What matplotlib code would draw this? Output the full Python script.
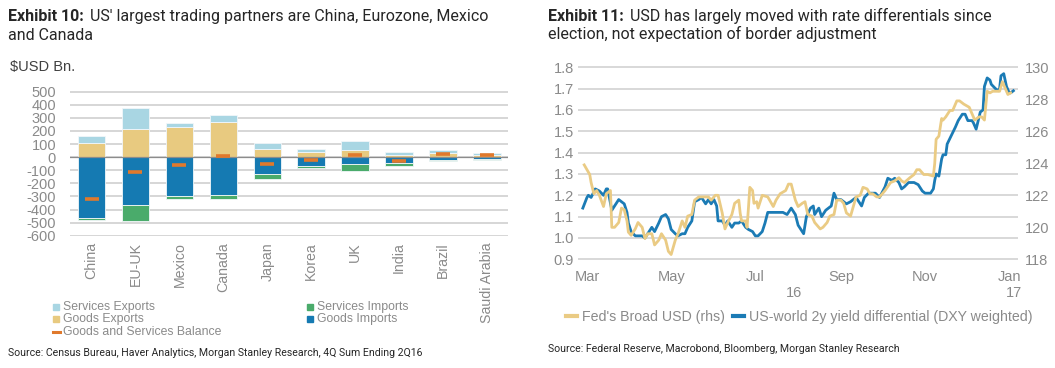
import matplotlib
matplotlib.use('Agg')
import matplotlib.pyplot as plt
import matplotlib.dates as mdates
import matplotlib.transforms as mtransforms
from matplotlib.lines import Line2D
from matplotlib.patches import Rectangle
from matplotlib import font_manager as fm
import numpy as np
import pandas as pd

plt.rcParams['axes.unicode_minus'] = False

# ---------------- Exhibit 10 data ($USD Bn, 4Q sum ending 2Q16) ----------------
categories = ['China', 'EU-UK', 'Mexico', 'Canada', 'Japan', 'Korea', 'UK',
              'India', 'Brazil', 'Saudi Arabia']
goods_exports = [109, 214, 229, 272, 61, 41, 56, 18, 31, 18]
services_exports = [54, 163, 33, 51, 46, 20, 66, 23, 22, 10]
goods_imports = [-463, -366, -300, -290, -130, -69, -53, -46, -20, -13]
services_imports = [-18, -123, -23, -26, -33, -15, -54, -23, -13, -5]
balance = [-318, -112, -61, 10, -56, -23, 15, -31, 23, 13]
left_yticks = [500, 400, 300, 200, 100, 0, -100, -200, -300, -400, -500, -600]

# ---------------- Exhibit 11 data ----------------
diff_dates = ['2016-02-27', '2016-03-01', '2016-03-02', '2016-03-04', '2016-03-07', '2016-03-10',
              '2016-03-13', '2016-03-15', '2016-03-16', '2016-03-19', '2016-03-21', '2016-03-24',
              '2016-03-26', '2016-03-28', '2016-03-30', '2016-03-31', '2016-04-02', '2016-04-05',
              '2016-04-10', '2016-04-12', '2016-04-14', '2016-04-17', '2016-04-19', '2016-04-22',
              '2016-04-24', '2016-04-27', '2016-04-29', '2016-05-01', '2016-05-04', '2016-05-06',
              '2016-05-09', '2016-05-11', '2016-05-13', '2016-05-16', '2016-05-18', '2016-05-21',
              '2016-05-23', '2016-05-26', '2016-05-28', '2016-05-30', '2016-06-01', '2016-06-03',
              '2016-06-04', '2016-06-07', '2016-06-09', '2016-06-11', '2016-06-14', '2016-06-16',
              '2016-06-19', '2016-06-21', '2016-06-24', '2016-06-26', '2016-06-29', '2016-07-01',
              '2016-07-03', '2016-07-06', '2016-07-08', '2016-07-10', '2016-07-13', '2016-07-18',
              '2016-07-21', '2016-07-24', '2016-07-27', '2016-07-30', '2016-08-01', '2016-08-04',
              '2016-08-05', '2016-08-07', '2016-08-10', '2016-08-12', '2016-08-13', '2016-08-16',
              '2016-08-18', '2016-08-21', '2016-08-23', '2016-08-25', '2016-08-27', '2016-08-29',
              '2016-09-01', '2016-09-03', '2016-09-05', '2016-09-08', '2016-09-10', '2016-09-12',
              '2016-09-16', '2016-09-18', '2016-09-21', '2016-09-23', '2016-09-26', '2016-09-29',
              '2016-10-03', '2016-10-05', '2016-10-08', '2016-10-10', '2016-10-13', '2016-10-15',
              '2016-10-17', '2016-10-20', '2016-10-22', '2016-10-24', '2016-10-27', '2016-10-30',
              '2016-11-01', '2016-11-05', '2016-11-07', '2016-11-08', '2016-11-09', '2016-11-11',
              '2016-11-13', '2016-11-14', '2016-11-16', '2016-11-17', '2016-11-20', '2016-11-23',
              '2016-11-25', '2016-11-28', '2016-11-30', '2016-12-02', '2016-12-05', '2016-12-06',
              '2016-12-08', '2016-12-11', '2016-12-13', '2016-12-14', '2016-12-16', '2016-12-18',
              '2016-12-19', '2016-12-22', '2016-12-24', '2016-12-25', '2016-12-26', '2016-12-28',
              '2016-12-30', '2017-01-01', '2017-01-02', '2017-01-04']
diff_values = [1.14, 1.19, 1.20, 1.19, 1.23, 1.22,
               1.20, 1.23, 1.23, 1.13, 1.15, 1.18,
               1.17, 1.16, 1.12, 1.07, 1.03, 1.01,
               1.01, 1.00, 1.02, 1.05, 1.03, 1.07,
               1.10, 1.11, 1.09, 1.04, 1.02, 1.01,
               1.02, 1.02, 1.05, 1.08, 1.17, 1.18,
               1.19, 1.16, 1.18, 1.16, 1.18, 1.15,
               1.08, 1.08, 1.06, 1.08, 1.05, 1.07,
               1.07, 1.08, 1.05, 1.04, 1.03, 1.01,
               1.01, 1.03, 1.07, 1.12, 1.12, 1.12,
               1.12, 1.11, 1.14, 1.11, 1.06, 1.03,
               1.02, 1.10, 1.14, 1.15, 1.11, 1.14,
               1.10, 1.13, 1.14, 1.15, 1.21, 1.18,
               1.18, 1.17, 1.16, 1.17, 1.18, 1.19,
               1.15, 1.19, 1.21, 1.21, 1.21, 1.19,
               1.24, 1.28, 1.27, 1.28, 1.26, 1.23,
               1.24, 1.26, 1.26, 1.26, 1.25, 1.22,
               1.21, 1.21, 1.23, 1.27, 1.30, 1.29,
               1.37, 1.39, 1.39, 1.44, 1.48, 1.52,
               1.55, 1.58, 1.58, 1.55, 1.55, 1.54,
               1.51, 1.59, 1.60, 1.71, 1.75, 1.74,
               1.72, 1.70, 1.69, 1.70, 1.76, 1.77,
               1.71, 1.68, 1.68, 1.69]

usd_dates = ['2016-02-28', '2016-03-03', '2016-03-04', '2016-03-06', '2016-03-08', '2016-03-10',
             '2016-03-13', '2016-03-15', '2016-03-18', '2016-03-19', '2016-03-21', '2016-03-24',
             '2016-03-26', '2016-03-28', '2016-03-30', '2016-03-31', '2016-04-02', '2016-04-05',
             '2016-04-07', '2016-04-10', '2016-04-12', '2016-04-14', '2016-04-17', '2016-04-19',
             '2016-04-22', '2016-04-24', '2016-04-27', '2016-04-29', '2016-05-01', '2016-05-04',
             '2016-05-06', '2016-05-09', '2016-05-11', '2016-05-13', '2016-05-16', '2016-05-18',
             '2016-05-21', '2016-05-26', '2016-05-28', '2016-05-30', '2016-06-02', '2016-06-04',
             '2016-06-07', '2016-06-09', '2016-06-11', '2016-06-14', '2016-06-16', '2016-06-19',
             '2016-06-20', '2016-06-21', '2016-06-24', '2016-06-25', '2016-06-26', '2016-06-27',
             '2016-06-29', '2016-06-30', '2016-07-02', '2016-07-03', '2016-07-06', '2016-07-10',
             '2016-07-14', '2016-07-16', '2016-07-19', '2016-07-23', '2016-07-25', '2016-07-27',
             '2016-07-30', '2016-08-01', '2016-08-04', '2016-08-06', '2016-08-08', '2016-08-11',
             '2016-08-13', '2016-08-16', '2016-08-17', '2016-08-19', '2016-08-22', '2016-08-24',
             '2016-08-27', '2016-08-29', '2016-09-01', '2016-09-03', '2016-09-05', '2016-09-08',
             '2016-09-10', '2016-09-12', '2016-09-15', '2016-09-17', '2016-09-20', '2016-09-22',
             '2016-09-24', '2016-09-27', '2016-09-29', '2016-10-03', '2016-10-07', '2016-10-10',
             '2016-10-13', '2016-10-15', '2016-10-17', '2016-10-21', '2016-10-24', '2016-10-26',
             '2016-10-28', '2016-10-31', '2016-11-03', '2016-11-07', '2016-11-08', '2016-11-09',
             '2016-11-11', '2016-11-13', '2016-11-14', '2016-11-16', '2016-11-19', '2016-11-21',
             '2016-11-24', '2016-11-26', '2016-11-29', '2016-12-01', '2016-12-03', '2016-12-06',
             '2016-12-07', '2016-12-10', '2016-12-12', '2016-12-14', '2016-12-16', '2016-12-18',
             '2016-12-20', '2016-12-23', '2016-12-25', '2016-12-27', '2016-12-29', '2016-12-31',
             '2017-01-02']
usd_values = [123.9, 123.3, 122.8, 122.1, 122.3, 122.0,
              121.3, 122.1, 122.3, 120.0, 120.0, 120.3,
              121.2, 121.1, 120.4, 119.7, 119.5, 119.9,
              120.3, 120.0, 119.3, 119.6, 119.6, 118.9,
              119.2, 119.6, 119.2, 118.5, 118.3, 119.2,
              119.6, 120.4, 120.0, 120.7, 120.8, 121.7,
              121.9, 121.9, 121.9, 121.7, 122.0, 122.0,
              120.9, 119.9, 120.3, 120.8, 121.5, 121.7,
              120.9, 120.4, 120.4, 120.0, 121.2, 122.5,
              122.3, 121.5, 121.6, 121.2, 122.0, 121.9,
              121.3, 121.7, 122.1, 122.3, 122.7, 122.7,
              121.7, 121.3, 121.5, 121.6, 120.8, 120.7,
              120.3, 120.0, 119.9, 120.0, 120.3, 120.7,
              120.8, 121.7, 121.7, 121.5, 120.9, 120.7,
              121.3, 121.9, 122.0, 122.5, 122.4, 122.1,
              122.1, 121.9, 121.9, 122.3, 122.8, 122.9,
              123.1, 122.9, 122.8, 123.1, 123.3, 123.6,
              123.6, 123.3, 123.3, 123.2, 124.0, 125.5,
              125.7, 126.8, 126.7, 126.9, 127.3, 127.3,
              127.9, 127.9, 127.7, 127.6, 127.5, 126.9,
              126.7, 126.9, 126.9, 126.7, 128.5, 128.4,
              128.5, 128.5, 128.5, 129.1, 128.7, 128.3,
              128.4]
left2_ticks = [0.9, 1.0, 1.1, 1.2, 1.3, 1.4, 1.5, 1.6, 1.7, 1.8]
right2_ticks = [118, 120, 122, 124, 126, 128, 130]

# ---------------- styling ----------------
W, H = 1055, 368
C_SE = '#a9d6e3'
C_GE = '#e8ca80'
C_GI = '#157ab2'
C_SI = '#4aab6b'
C_BAL = '#e0792c'
C_BLUE = '#1b7bb5'
C_YEL = '#eacb84'
GRAY = '#8a8a8a'
DARK = '#262626'
GRID = '#d6d6d6'

avail = {f.name for f in fm.fontManager.ttflist}
BODY = ['Liberation Sans', 'DejaVu Sans']
TITLE = ['Roboto', 'Liberation Sans', 'DejaVu Sans']
SRC = (['Liberation Sans Narrow'] if 'Liberation Sans Narrow' in avail else ['Roboto']) + ['DejaVu Sans']
plt.rcParams['font.family'] = BODY

fig = plt.figure(figsize=(W / 100, H / 100), dpi=100)


def fx(px):
    return px / W


def fy(py):
    return 1 - py / H


def add_axes_px(x0, y0, x1, y1):
    return fig.add_axes([fx(x0), fy(y1), (x1 - x0) / W, (y1 - y0) / H])


# ======================= Exhibit 10 =======================
ax1 = add_axes_px(70, 91.0, 508, 236.4)
x = np.arange(len(categories))
bw = 0.625
ek = dict(edgecolor='#f2f7fa', linewidth=0.6, zorder=2)
ax1.bar(x, goods_exports, bw, color=C_GE, **ek)
ax1.bar(x, services_exports, bw, bottom=goods_exports, color=C_SE, **ek)
ax1.bar(x, goods_imports, bw, color=C_GI, **ek)
ax1.bar(x, services_imports, bw, bottom=goods_imports, color=C_SI, **ek)
ax1.plot(x, balance, ls='none', marker='_', ms=10, mew=2.6, color=C_BAL, zorder=4)
ax1.axhline(0, color='#8c8c8c', lw=0.9, zorder=3)
ax1.set_xlim(-0.49, 9.48)
ax1.set_ylim(-605, 505)
ax1.set_yticks(left_yticks)
ax1.set_yticklabels([str(v) for v in left_yticks])
ax1.set_xticks(x)
ax1.set_xticklabels(categories, rotation=90)
ax1.tick_params(axis='y', length=0, pad=10, labelsize=10.5, labelcolor=GRAY)
ax1.tick_params(axis='x', length=0, pad=4, labelsize=10.2, labelcolor=GRAY)
ax1.grid(axis='y', color=GRID, lw=1.4, zorder=0)
ax1.set_axisbelow(True)
for s in ax1.spines.values():
    s.set_visible(False)

fig.text(fx(10), fy(67), '$USD Bn.', fontsize=10.5, color='#404040', va='center', ha='left')

# manual legend (Exhibit 10)
leg_items = [
    (53, 306.7, 'sq', C_SE, 'Services Exports'),
    (53, 319.2, 'sq', C_GE, 'Goods Exports'),
    (53, 331.7, 'ln', C_BAL, 'Goods and Services Balance'),
    (307, 306.7, 'sq', C_SI, 'Services Imports'),
    (307, 319.2, 'sq', C_GI, 'Goods Imports'),
]
for hx, hy, kind, col, lab in leg_items:
    if kind == 'sq':
        fig.patches.append(Rectangle((fx(hx), fy(hy + 3)), 6 / W, 6 / H,
                                     transform=fig.transFigure, color=col))
    else:
        fig.lines.append(Line2D([fx(hx), fx(hx + 7)], [fy(hy), fy(hy)],
                                transform=fig.transFigure, color=col, lw=2.2))
    fig.text(fx(hx + 10), fy(hy), lab, fontsize=8.8, color=GRAY, va='center', ha='left')

fig.text(fx(8), fy(353), 'Source: Census Bureau, Haver Analytics, Morgan Stanley Research, 4Q Sum Ending 2Q16',
         fontsize=7.6, color=DARK, va='center', ha='left', family=SRC)

# ======================= Exhibit 11 =======================
ax2 = add_axes_px(578, 66.2, 1018, 260.4)
ax3 = ax2.twinx()
dd = pd.to_datetime(diff_dates)
ud = pd.to_datetime(usd_dates)
ax2.plot(dd, diff_values, color=C_BLUE, lw=2.0, solid_joinstyle='round', zorder=3)
ax3.plot(ud, usd_values, color=C_YEL, lw=2.0, solid_joinstyle='round')
lo, hi = 0.895, 1.805
ax2.set_ylim(lo, hi)
ax3.set_ylim(118 + (lo - 0.9) / 0.075, 118 + (hi - 0.9) / 0.075)
ax2.set_yticks(left2_ticks)
ax2.set_yticklabels([f'{v:.1f}' for v in left2_ticks])
ax3.set_yticks(right2_ticks)
ax3.set_yticklabels([str(v) for v in right2_ticks])
x0 = pd.Timestamp('2016-02-23 12:00')
x1 = pd.Timestamp('2017-01-07 08:00')
ax2.set_xlim(x0, x1)
ax2.xaxis.set_major_locator(mdates.MonthLocator(bymonth=[1, 3, 5, 7, 9, 11]))
ax2.xaxis.set_major_formatter(mdates.DateFormatter('%b'))
ax2.grid(axis='y', color=GRID, lw=1.3, zorder=0)
ax2.tick_params(axis='y', length=0, pad=3, labelsize=10.5, labelcolor=GRAY)
ax3.tick_params(axis='y', length=0, pad=5, labelsize=10.5, labelcolor=GRAY)
ax2.tick_params(axis='x', length=0, pad=7, labelsize=10.5, labelcolor=GRAY)
for a in (ax2, ax3):
    for s in a.spines.values():
        s.set_visible(False)

jan = pd.Timestamp('2017-01-01')
trans = mtransforms.blended_transform_factory(ax2.transData, fig.transFigure)
ax2.text(mdates.date2num(x0) / 2 + mdates.date2num(jan) / 2, fy(293), '16', transform=trans,
         ha='center', va='center', fontsize=10.5, color=GRAY)
ax2.text(mdates.date2num(jan) / 2 + mdates.date2num(x1) / 2, fy(293), '17', transform=trans,
         ha='center', va='center', fontsize=10.5, color=GRAY)

handles = [Line2D([], [], color=C_YEL, lw=3), Line2D([], [], color=C_BLUE, lw=3)]
fig.legend(handles, ["Fed's Broad USD (rhs)", 'US-world 2y yield differential (DXY weighted)'],
           ncol=2, loc='center', bbox_to_anchor=(fx(799), fy(317)), frameon=False,
           fontsize=10.2, labelcolor=GRAY, handlelength=0.8, handletextpad=0.3,
           columnspacing=0.6, borderpad=0, borderaxespad=0)

fig.text(fx(548), fy(349), 'Source: Federal Reserve, Macrobond, Bloomberg, Morgan Stanley Research',
         fontsize=7.6, color=DARK, va='center', ha='left', family=SRC)

# ---------------- titles ----------------
fig.canvas.draw()
renderer = fig.canvas.get_renderer()


def title(xpx, bold, rest, line2):
    t = fig.text(fx(xpx), fy(20.7), bold, fontsize=11.5, fontweight='bold', color=DARK,
                 family=TITLE, va='baseline', ha='left')
    bb = t.get_window_extent(renderer)
    fig.text(bb.x1 / W + 6 / W, fy(20.7), rest, fontsize=11.5, color=DARK,
             family=TITLE, va='baseline', ha='left')
    fig.text(fx(xpx), fy(39.5), line2, fontsize=11.5, color=DARK,
             family=TITLE, va='baseline', ha='left')


title(8, 'Exhibit 10:', "US' largest trading partners are China, Eurozone, Mexico", 'and Canada')
title(548, 'Exhibit 11:', 'USD has largely moved with rate differentials since',
      'election, not expectation of border adjustment')

fig.savefig('out.png', dpi=100)
